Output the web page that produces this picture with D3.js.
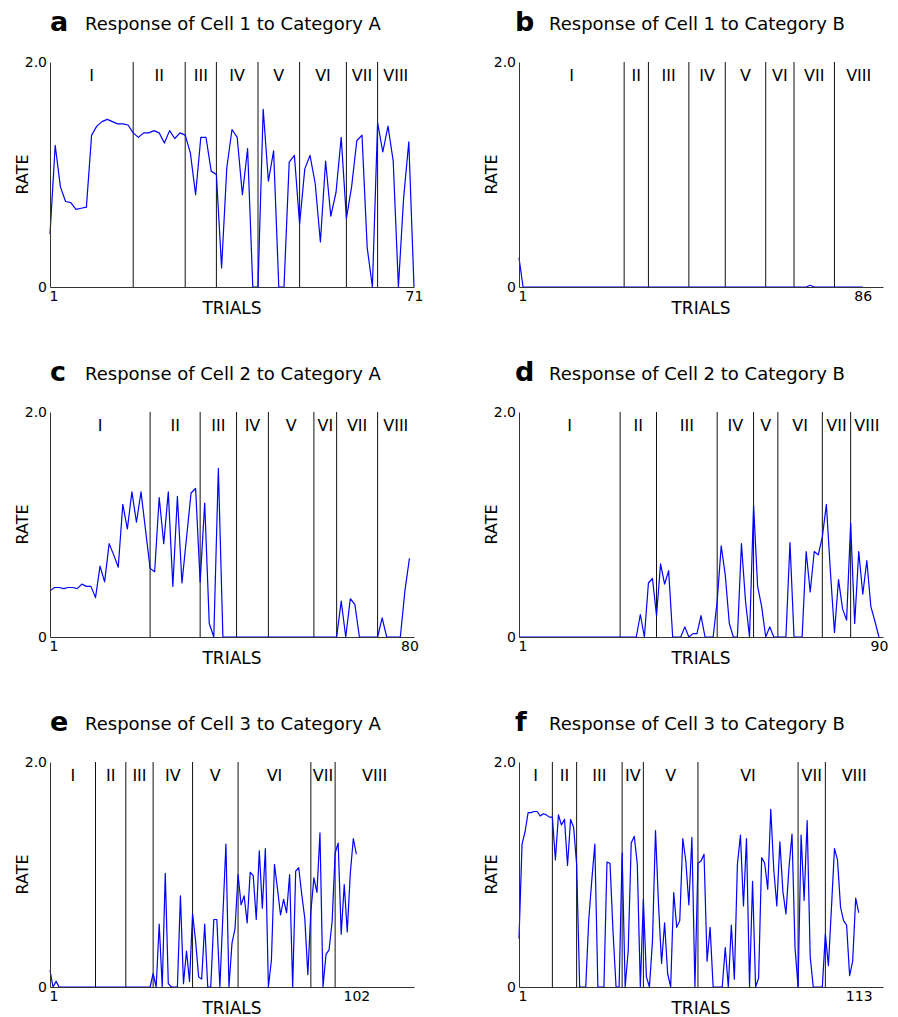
<!DOCTYPE html>
<html>
<head>
<meta charset="utf-8">
<script src="https://cdn.jsdelivr.net/npm/d3@7"></script>
<style>
  html, body { margin: 0; padding: 0; background: #fff; }
  svg { display: block; font-family: "DejaVu Sans", sans-serif; }
</style>
</head>
<body>
<svg id="chart" width="898" height="1017"></svg>
<script>
// Panel letters and titles
const panelLetters = ["a", "b", "c", "d", "e", "f"];
const panelTitles = [
  "Response of Cell 1 to Category A",
  "Response of Cell 1 to Category B",
  "Response of Cell 2 to Category A",
  "Response of Cell 2 to Category B",
  "Response of Cell 3 to Category A",
  "Response of Cell 3 to Category B"
];

// Phase labels shown between the phase boundaries
const phaseLabels = ["I", "II", "III", "IV", "V", "VI", "VII", "VIII"];

// Rate axis
const rateMax = 2.0;
const rateTicks = [0, 2.0];

// Trial-by-trial firing rates
const cell1A = [
  0.47, 1.26, 0.89, 0.76, 0.75, 0.69, 0.70, 0.71, 1.35, 1.43,
  1.47, 1.49, 1.47, 1.45, 1.45, 1.44, 1.37, 1.33, 1.37, 1.37,
  1.39, 1.37, 1.28, 1.39, 1.32, 1.37, 1.35, 1.19, 0.82, 1.33,
  1.33, 1.03, 1.00, 0.17, 1.06, 1.40, 1.33, 0.82, 1.23, 0,
  0, 1.58, 0.94, 1.21, 0, 0, 1.11, 1.17, 0.56, 1.05,
  1.17, 0.92, 0.40, 1.12, 0.63, 0.84, 1.33, 0.61, 0.89, 1.30,
  1.35, 0.35, 0, 1.46, 1.20, 1.43, 1.12, 0, 0.79, 1.29,
  0
];
const cell1B = [
  0.26, 0, 0, 0, 0, 0, 0, 0, 0, 0,
  0, 0, 0, 0, 0, 0, 0, 0, 0, 0,
  0, 0, 0, 0, 0, 0, 0, 0, 0, 0,
  0, 0, 0, 0, 0, 0, 0, 0, 0, 0,
  0, 0, 0, 0, 0, 0, 0, 0, 0, 0,
  0, 0, 0, 0, 0, 0, 0, 0, 0, 0,
  0, 0, 0, 0, 0, 0, 0, 0, 0, 0,
  0, 0, 0.015, 0, 0, 0, 0, 0, 0, 0,
  0, 0, 0, 0, 0, 0
];
const cell2A = [
  0.41, 0.44, 0.44, 0.43, 0.44, 0.44, 0.43, 0.47, 0.45, 0.45,
  0.35, 0.63, 0.49, 0.83, 0.73, 0.62, 1.18, 0.96, 1.29, 1.02,
  1.29, 0.95, 0.61, 0.58, 1.24, 0.83, 1.29, 0.45, 1.25, 0.48,
  0.88, 1.28, 1.32, 0.49, 1.19, 0.12, 0, 1.50, 0, 0,
  0, 0, 0, 0, 0, 0, 0, 0, 0, 0,
  0, 0, 0, 0, 0, 0, 0, 0, 0, 0,
  0, 0, 0, 0, 0.32, 0, 0.34, 0.29, 0, 0,
  0, 0, 0, 0.17, 0, 0, 0, 0, 0.41, 0.70
];
const cell2B = [
  0, 0, 0, 0, 0, 0, 0, 0, 0, 0,
  0, 0, 0, 0, 0, 0, 0, 0, 0, 0,
  0, 0, 0, 0, 0, 0, 0, 0, 0, 0,
  0.20, 0, 0.48, 0.52, 0.19, 0.65, 0.47, 0.59, 0, 0,
  0, 0.09, 0, 0.03, 0.03, 0.19, 0, 0, 0, 0.32,
  0.81, 0.55, 0.12, 0, 0, 0.83, 0.32, 0, 1.17, 0.45,
  0.27, 0, 0.09, 0, 0, 0, 0, 0.84, 0, 0,
  0, 0.76, 0.40, 0.76, 0.73, 0.89, 1.18, 0.58, 0.04, 0.51,
  0.25, 0.15, 1.01, 0.12, 0.76, 0.38, 0.68, 0.27, 0.14, 0
];
const cell3A = [
  0.15, 0, 0.05, 0, 0, 0, 0, 0, 0, 0,
  0, 0, 0, 0, 0, 0, 0, 0, 0, 0,
  0, 0, 0, 0, 0, 0, 0, 0, 0, 0,
  0, 0, 0, 0, 0.12, 0, 0.56, 0, 1.01, 0.03,
  0, 0, 0, 0.81, 0.03, 0.32, 0.05, 0.65, 0.41, 0.09,
  0.07, 0.56, 0, 0, 0.60, 0.60, 0, 0.64, 1.27, 0,
  0.39, 0.52, 1.00, 0.73, 0.81, 0.57, 1.02, 0.99, 0.60, 1.21,
  0.70, 1.23, 0, 0.24, 1.09, 0.87, 0.64, 0.78, 0.66, 1.00,
  0, 1.03, 1.06, 0.82, 0.61, 0.11, 0.67, 0.97, 0.84, 1.37,
  0, 0.29, 0.33, 0.58, 1.19, 1.28, 0.47, 0.91, 0.49, 1.01,
  1.32, 1.18
];
const cell3B = [
  0.43, 1.27, 1.38, 1.55, 1.55, 1.56, 1.56, 1.52, 1.54, 1.53,
  1.51, 1.51, 1.13, 1.53, 1.44, 1.49, 1.08, 1.49, 1.42, 1.09,
  0, 0, 0, 0.60, 0.95, 1.27, 0, 0, 0, 1.11,
  1.10, 0.49, 0, 0, 1.19, 0, 0.32, 1.28, 1.34, 1.09,
  0, 0.78, 0.09, 0, 0.41, 1.39, 0.73, 0.21, 0.57, 0.12,
  0, 0.84, 0.53, 0.59, 1.32, 1.12, 0.73, 1.33, 0, 1.10,
  1.12, 1.18, 0.23, 0.53, 0, 0, 0, 0, 0.35, 0,
  0.55, 0.07, 1.09, 1.35, 0.72, 1.32, 0, 0.94, 0, 0.08,
  1.15, 1.10, 0.87, 1.58, 1.04, 0.72, 1.29, 0.85, 0.65, 1.06,
  1.36, 0.35, 0, 1.35, 0.77, 1.48, 0.27, 0, 0, 0,
  0, 0.47, 0.19, 0.70, 1.23, 1.13, 0.71, 0.59, 0.55, 0.10,
  0.23, 0.79, 0.66
];

// Trials at which each new phase begins
const phases1A = [17, 27, 33, 41, 49, 58, 64];
const phases1B = [27, 33, 43, 52, 62, 69, 79];
const phases2A = [23, 34, 42, 49, 59, 64, 73];
const phases2B = [26, 35, 50, 59, 65, 76, 83];
const phases3A = [16, 26, 35, 48, 63, 87, 95];
const phases3B = [12, 20, 35, 42, 60, 93, 102];

// Extent of the trial axis in each panel
const trialAxisEnd = [71, 91, 81, 91, 121, 121];

const seriesList = [cell1A, cell1B, cell2A, cell2B, cell3A, cell3B];
const phaseList = [phases1A, phases1B, phases2A, phases2B, phases3A, phases3B];

// Layout
const plotW = 364, plotH = 225;
const colX = [50, 519];
const rowTop = [62, 412, 762];

const svg = d3.select("#chart");

panelLetters.forEach((letter, i) => {
  const col = i % 2, row = Math.floor(i / 2);
  const x0 = colX[col], top = rowTop[row];
  const values = seriesList[i];
  const phases = phaseList[i];
  const nTrials = values.length;

  const x = d3.scaleLinear().domain([1, trialAxisEnd[i]]).range([x0, x0 + plotW]);
  const y = d3.scaleLinear().domain([0, rateMax]).range([top + plotH, top]);

  const g = svg.append("g");

  // Panel letter and title
  g.append("text")
    .attr("x", x0 - (col ? 4 : 0))
    .attr("y", top - 31)
    .attr("font-size", 27)
    .attr("font-weight", "bold")
    .text(letter);
  g.append("text")
    .attr("x", x0 + (col ? 30 : 35))
    .attr("y", top - 32)
    .attr("font-size", 18)
    .text(panelTitles[i]);

  // Phase boundaries
  g.selectAll("line.phase")
    .data(phases)
    .join("line")
    .attr("class", "phase")
    .attr("x1", d => x(d)).attr("x2", d => x(d))
    .attr("y1", y(rateMax)).attr("y2", y(0))
    .attr("stroke", "#111")
    .attr("stroke-width", 1);

  // Phase labels centred in each interval
  const edges = [1, ...phases, trialAxisEnd[i]];
  g.selectAll("text.phase")
    .data(phaseLabels)
    .join("text")
    .attr("class", "phase")
    .attr("x", (d, k) => x((edges[k] + edges[k + 1]) / 2))
    .attr("y", top + 19)
    .attr("text-anchor", "middle")
    .attr("font-size", 16)
    .text(d => d);

  // Rate trace
  const line = d3.line()
    .x((d, k) => x(k + 1))
    .y(d => y(d));
  g.append("path")
    .datum(values)
    .attr("fill", "none")
    .attr("stroke", "#0000ff")
    .attr("stroke-width", 1.2)
    .attr("stroke-linejoin", "round")
    .attr("d", line);

  // Axes
  const xAxis = d3.axisBottom(x)
    .tickValues([1, nTrials])
    .tickFormat(d3.format("d"))
    .tickSizeInner(0).tickSizeOuter(0).tickPadding(4);
  const gx = g.append("g")
    .attr("transform", `translate(0,${y(0)})`)
    .call(xAxis);
  gx.select(".domain").attr("stroke", "#333");
  gx.selectAll("text").attr("font-size", 14).attr("fill", "#000")
    .attr("font-family", "DejaVu Sans, sans-serif");
  gx.selectAll(".tick").filter(d => d === 1).select("text")
    .attr("text-anchor", "start").attr("x", -1);

  const yAxis = d3.axisLeft(y)
    .tickValues(rateTicks)
    .tickFormat(d => d === 0 ? "0" : d3.format(".1f")(d))
    .tickSizeInner(0).tickSizeOuter(0).tickPadding(3);
  const gy = g.append("g")
    .attr("transform", `translate(${x0},0)`)
    .call(yAxis);
  gy.select(".domain").attr("stroke", "#333");
  gy.selectAll("text").attr("font-size", 14).attr("fill", "#000")
    .attr("font-family", "DejaVu Sans, sans-serif");

  // Axis titles
  g.append("text")
    .attr("x", x0 + plotW / 2)
    .attr("y", top + plotH + 27)
    .attr("text-anchor", "middle")
    .attr("font-size", 17)
    .text("TRIALS");
  g.append("text")
    .attr("transform", `translate(${x0 - 22},${top + plotH / 2}) rotate(-90)`)
    .attr("text-anchor", "middle")
    .attr("font-size", 16)
    .text("RATE");
});
</script>
</body>
</html>
